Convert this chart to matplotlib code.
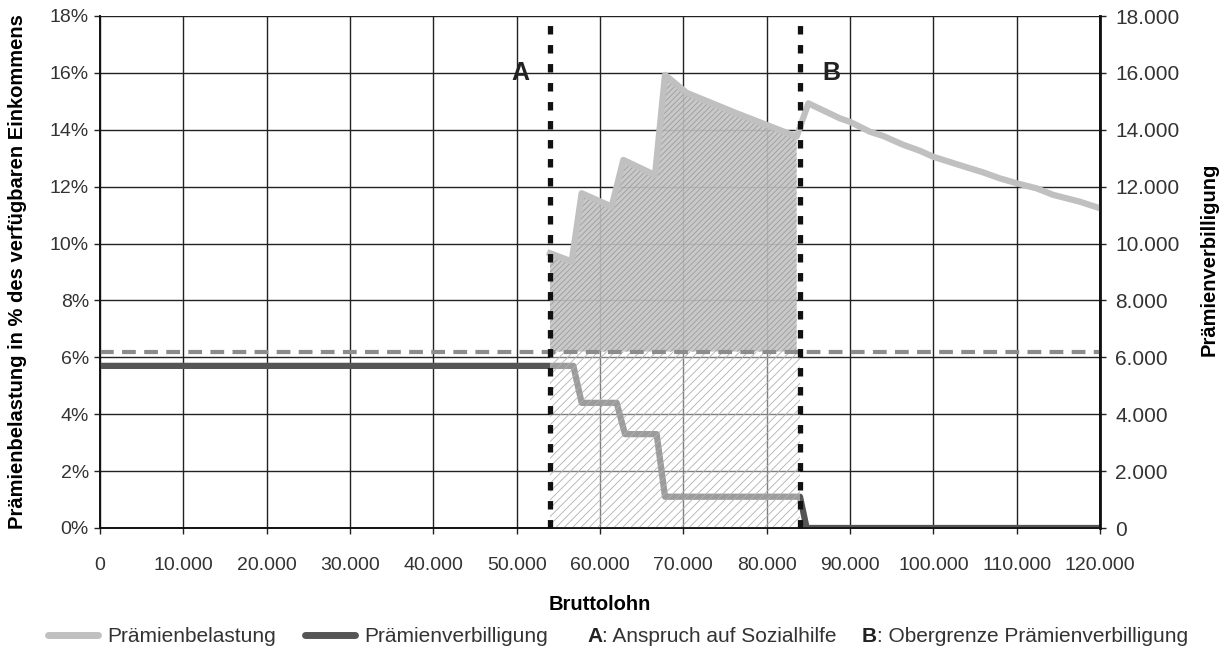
import matplotlib.pyplot as plt
from matplotlib.lines import Line2D
from matplotlib.ticker import FuncFormatter

plt.rcParams['font.family'] = ['Liberation Sans', 'DejaVu Sans']
plt.rcParams['hatch.linewidth'] = 0.6

# Prämienbelastung in % (linke Achse)
belastung_x = [54000, 56600, 57800, 61400, 62800, 66600, 67800, 70400, 76400, 80000, 83600,
               85000, 88800, 90000, 92400, 94000, 96400, 98400, 100000, 104000, 106000,
               108000, 110000, 112400, 114400, 117600, 120000]
belastung_y = [9.66, 9.37, 11.77, 11.3, 12.94, 12.41, 15.93, 15.3, 14.58, 14.17, 13.76,
               14.93, 14.40, 14.28, 13.93, 13.78, 13.47, 13.26, 13.05, 12.68, 12.50,
               12.29, 12.12, 11.94, 11.71, 11.47, 11.24]

# Prämienverbilligung in CHF (rechte Achse)
verbill_x = [0, 54000, 56800, 57800, 62000, 63000, 66800, 67800, 84000, 84800, 120000]
verbill_y = [5700, 5700, 5700, 4400, 4400, 3300, 3300, 1100, 1100, 0, 0]

grenze = 6.2          # Prämienbelastungsgrenze in %
punkt_a = 54000       # Anspruch auf Sozialhilfe
punkt_b = 84000       # Obergrenze Prämienverbilligung

x_ticks = list(range(0, 120001, 10000))
y_ticks = list(range(0, 19, 2))
y2_ticks = list(range(0, 18001, 2000))

def tausender(v, pos=None):
    return f"{v:,.0f}".replace(",", ".")

fig = plt.figure(figsize=(12.27, 6.53), dpi=100)
ax = fig.add_axes([100/1227, 1-528/653, 1000/1227, 512/653])
ax2 = ax.twinx()

ax.set_xlim(0, 120000)
ax.set_ylim(0, 18)
ax2.set_ylim(0, 18000)
ax.set_xticks(x_ticks)
ax.set_yticks(y_ticks)
ax2.set_yticks(y2_ticks)
ax.xaxis.set_major_formatter(FuncFormatter(tausender))
ax.yaxis.set_major_formatter(FuncFormatter(lambda v, p: f"{v:.0f}%"))
ax2.yaxis.set_major_formatter(FuncFormatter(tausender))

ax.grid(True, color='#222222', linewidth=1.0, zorder=0)
ax.set_axisbelow(True)
for a in (ax, ax2):
    a.tick_params(labelsize=14, labelcolor='#333333', length=4, width=1, color='#222222')
    for s in a.spines.values():
        s.set_color('#111111')
        s.set_linewidth(1.2)
    a.spines['top'].set_visible(False)
ax2.spines['right'].set_linewidth(2)
ax.tick_params(axis='x', pad=17)
ax.tick_params(axis='y', pad=4)
ax2.tick_params(labelsize=15, pad=7)

# Prämienverbilligung wird in die Achse ax übertragen (Skala 1000 = 1%)
pv = [v / 1000 for v in verbill_y]
ax.plot(verbill_x, pv, color='#555555', linewidth=4.5, solid_capstyle='butt', zorder=3)

# Bereich zwischen A und B, unten (leichte Schraffur)
ax.fill_between([punkt_a, punkt_b], 0, grenze, facecolor='white', alpha=0.42,
                linewidth=0, zorder=4)
ax.fill_between([punkt_a, punkt_b], 0, grenze, facecolor='none', edgecolor='#b0b0b0',
                hatch='////', linewidth=0, zorder=4)

# Bereich oben, unter der Belastungskurve
ix = belastung_x[:11]
iy = belastung_y[:11]
ax.fill_between(ix, grenze, iy, facecolor='#c4c4c4', alpha=0.9, linewidth=0, zorder=4)
ax.fill_between(ix, grenze, iy, facecolor='none', edgecolor='#9c9c9c',
                hatch='//////', linewidth=0, zorder=4)

ax.plot(belastung_x, belastung_y, color='#c0c0c0', linewidth=4.5, zorder=5,
        solid_joinstyle='round')

ax.axhline(grenze, color='#8c8c8c', linewidth=3, linestyle=(0, (3.3, 2)), zorder=6)

for p in (punkt_a, punkt_b):
    ax.plot([p, p], [0, 18.05], color='#111111', linewidth=3.8,
            linestyle=(0, (1.6, 2.0)), zorder=7, clip_on=False)

ax.text(50400, 16.0, 'A', fontsize=18, fontweight='bold', color='#222222',
        ha='center', va='center', zorder=8)
ax.text(87800, 16.0, 'B', fontsize=18, fontweight='bold', color='#222222',
        ha='center', va='center', zorder=8)

ax.set_xlabel('Bruttolohn', fontsize=14.5, fontweight='bold', labelpad=15)
ax.set_ylabel('Prämienbelastung in % des verfügbaren Einkommens', fontsize=14.5,
              fontweight='bold', labelpad=16)
ax2.set_ylabel('Prämienverbilligung', fontsize=14.5, fontweight='bold', labelpad=12)
ax2.yaxis.set_label_coords(1.1, 0.525)

leg_y = 1 - 637/653
handles = [Line2D([], [], color='#c0c0c0', linewidth=5, solid_capstyle='round'),
           Line2D([], [], color='#555555', linewidth=5, solid_capstyle='round')]
fig.legend(handles, ['Prämienbelastung', 'Prämienverbilligung'], loc='center left',
           bbox_to_anchor=(40/1227, leg_y), ncol=2, frameon=False, fontsize=15,
           handlelength=2.4, handletextpad=0.45, columnspacing=1.35, labelcolor='#333333',
           borderaxespad=0)

ta = fig.text(587/1227, leg_y, 'A', fontsize=15, fontweight='bold', color='#222222',
              va='center')
ax.annotate(': Anspruch auf Sozialhilfe', xy=(1, 0.5), xycoords=ta, va='center',
            fontsize=15, color='#333333', annotation_clip=False)
tb = fig.text(862/1227, leg_y, 'B', fontsize=15, fontweight='bold', color='#222222',
              va='center')
ax.annotate(': Obergrenze Prämienverbilligung', xy=(1, 0.5), xycoords=tb, va='center',
            fontsize=15, color='#333333', annotation_clip=False)

fig.savefig('out.png', dpi=100)
